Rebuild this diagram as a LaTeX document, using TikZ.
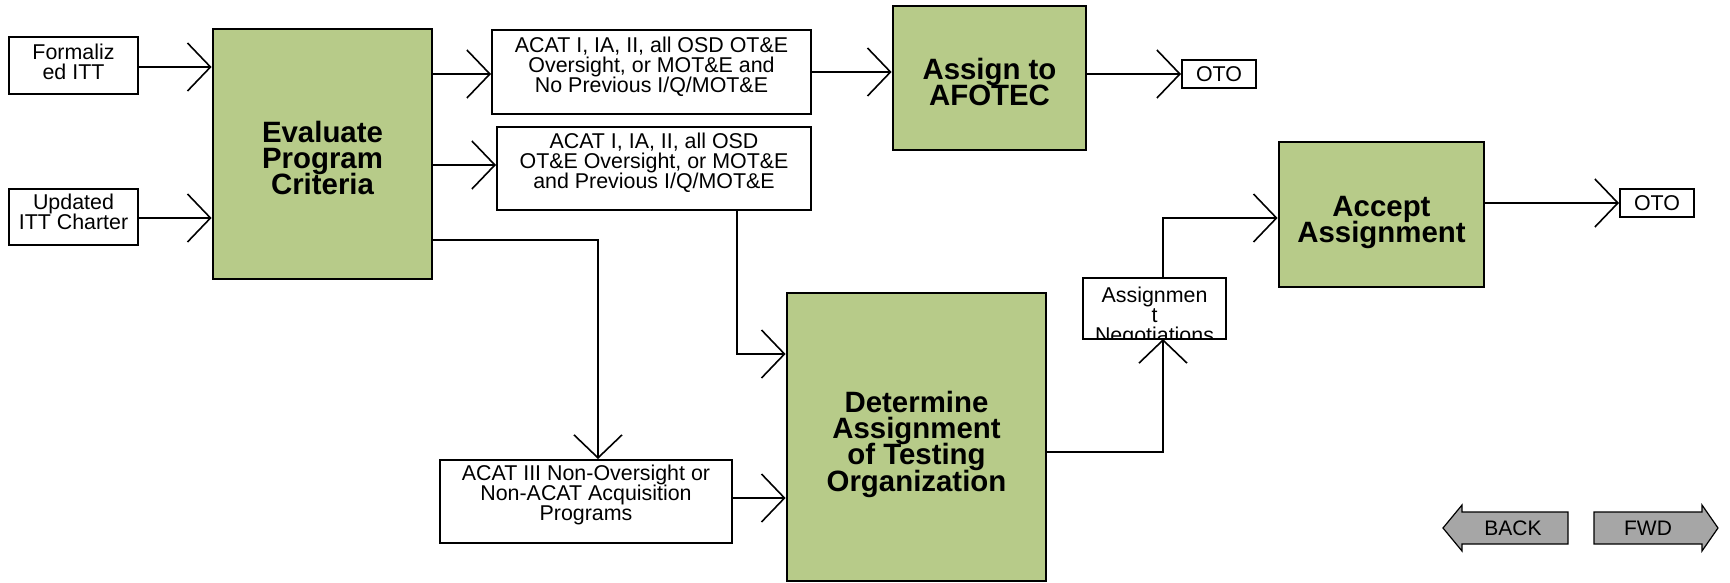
\documentclass[tikz,border=0pt]{standalone}
\usepackage{fontspec}
\setmainfont{Liberation Sans}
\usetikzlibrary{arrows.meta,calc}
\definecolor{boxgreen}{RGB}{183,203,137}
\definecolor{btngray}{RGB}{166,166,166}
\newcommand\liftby[1]{\rule[-#1]{0pt}{#1}}
\newcommand\topstrut{\rule{0pt}{14.7pt}}
\newcommand\nodp[1]{\raisebox{0pt}[\height][0pt]{#1}}
\newcommand\tightlines{\lineskiplimit=-10pt\relax}
\newcommand\bigfont{\fontsize{14.7}{13.2}\selectfont\bfseries\tightlines}
\newcommand\smallfnt{\fontsize{10.7}{9.95}\selectfont\tightlines}
\begin{document}
\begin{tikzpicture}[x=0.5pt,y=-0.5pt,
  sz/.style 2 args={minimum width=#1*0.5pt,minimum height=#2*0.5pt},
  greenbox/.style={draw,line width=1.4pt,fill=boxgreen,inner sep=0pt,align=center,font=\bigfont},
  whitebox/.style={draw,line width=1pt,fill=white,inner sep=0pt,align=center,font=\smallfnt},
  conn/.style={line width=0.8pt,-{Straight Barb[length=11.5pt,width=24pt]}},
  btn/.style={draw,line width=0.6pt,fill=btngray,line join=miter}]
\useasboundingbox (0,0) rectangle (1730,583);

% nodes
\node[whitebox,sz={129}{57}] (form) at (73.5,65.5) {Formaliz\\ed ITT\liftby{4pt}};
\node[whitebox,sz={129}{56}] (upd) at (73.5,217) {Updated\\ITT Charter\liftby{5pt}};
\node[greenbox,sz={219}{250}] (eval) at (322.5,154) {\topstrut Evaluate\\Program\\Criteria};
\node[whitebox,sz={319}{84}] (b1) at (651.5,72) {ACAT I, IA, II, all OSD OT\&E\\Oversight, or MOT\&E and\\No Previous I/Q/MOT\&E\liftby{7.6pt}};
\node[whitebox,sz={314}{83}] (b2) at (654,168.5) {ACAT I, IA, II, all OSD\\OT\&E Oversight, or MOT\&E\\and Previous I/Q/MOT\&E\liftby{8pt}};
\node[greenbox,sz={193}{144}] (afo) at (989.5,78) {\topstrut Assign to\\AFOTEC};
\node[whitebox,sz={74}{28}] (oto1) at (1219,74) {OTO};
\node[greenbox,sz={205}{145}] (acc) at (1381.5,214.5) {\topstrut Accept\\\nodp{Assignment}};
\node[whitebox,sz={74}{28}] (oto2) at (1657,203) {OTO};
\node[whitebox,sz={143}{61},outer sep=0pt] (neg) at (1154.5,308.5) {};
\begin{scope}
  \clip (neg.south west) rectangle (neg.north east);
  \node[font=\smallfnt,align=center,inner sep=0pt,anchor=north] (negtext) at ([yshift=-4.5pt]neg.north) {Assignmen\\t\\Negotiations};
\end{scope}
\draw[line width=1pt] (neg.south west) rectangle (neg.north east);
\node[greenbox,sz={259}{288}] (det) at (916.5,437) {\topstrut Determine\\Assignment\\of Testing\\\nodp{Organization}};
\node[whitebox,sz={292}{83}] (acat3) at (586,501.5) {ACAT III Non-Oversight or\\Non-ACAT Acquisition\\Programs\liftby{8.5pt}};

% connectors
\draw[conn] (form.east |- 0,67) -- (eval.west |- 0,67);
\draw[conn] (upd.east |- 0,218) -- (eval.west |- 0,218);
\draw[conn] (eval.east |- 0,74) -- (b1.west |- 0,74);
\draw[conn] (eval.east |- 0,165) -- (b2.west |- 0,165);
\draw[conn] (eval.east |- 0,240) -| (acat3.north -| 598,0);
\draw[conn] (b1.east |- 0,72) -- (afo.west |- 0,72);
\draw[conn] (afo.east |- 0,74) -- (oto1.west);
\draw[conn] (b2.south -| 737,0) |- (det.west |- 0,354);
\draw[conn] (acat3.east |- 0,498) -- (det.west |- 0,498);
\draw[conn] (det.east |- 0,452) -| (neg.south -| 1163,0);
\draw[conn] (neg.north -| 1163,0) |- (acc.west |- 0,218);
\draw[conn] (acc.east |- oto2.west) -- (oto2.west);

% navigation buttons
\draw[btn] (1443,528) -- (1462,505) -- (1462,512) -- (1568,512) -- (1568,544) -- (1462,544) -- (1462,551) -- cycle;
\node[font=\fontsize{10.5}{12}\selectfont] (back) at (1513,528) {BACK};
\draw[btn] (1718,528) -- (1702,505) -- (1702,512) -- (1594,512) -- (1594,544) -- (1702,544) -- (1702,551) -- cycle;
\node[font=\fontsize{10.5}{12}\selectfont] (fwd) at (1648,528) {FWD};
\end{tikzpicture}
\end{document}
